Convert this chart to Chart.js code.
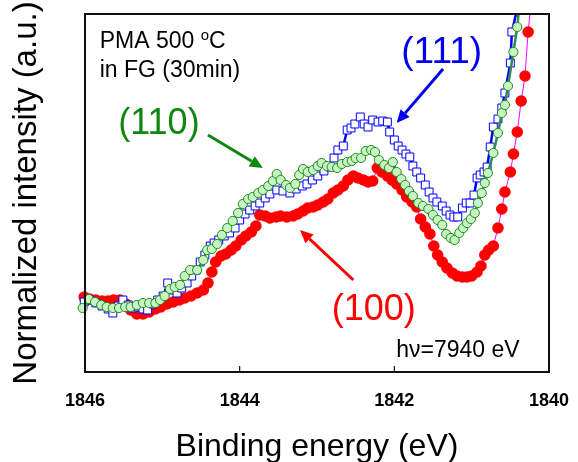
<!DOCTYPE html>
<html>
<head>
<meta charset="utf-8">
<script src="https://cdn.jsdelivr.net/npm/chart.js@4.4.1/dist/chart.umd.min.js"></script>
<style>
  html, body { margin: 0; padding: 0; background: #fff; }
  #wrap { width: 578px; height: 462px; }
</style>
</head>
<body>
<div id="wrap"><canvas id="xps" width="578" height="462"></canvas></div>
<script>
// Binding energy (eV), normalized intensity (a.u.)
const sample100 = [
  [1846.01,0.75],[1845.94,0.73],[1845.86,0.72],[1845.78,0.71],[1845.70,0.71],[1845.63,0.72],[1845.55,0.72],[1845.47,0.68],
  [1845.41,0.62],[1845.33,0.58],[1845.25,0.58],[1845.17,0.60],[1845.09,0.63],[1845.02,0.65],[1844.94,0.68],[1844.86,0.70],
  [1844.78,0.72],[1844.71,0.74],[1844.63,0.76],[1844.55,0.79],[1844.47,0.82],[1844.41,0.89],[1844.36,1.00],[1844.31,1.10],
  [1844.24,1.16],[1844.18,1.18],[1844.11,1.22],[1844.05,1.26],[1843.98,1.32],[1843.92,1.36],[1843.85,1.40],[1843.79,1.46],
  [1843.74,1.57],[1843.67,1.56],[1843.61,1.54],[1843.53,1.55],[1843.47,1.56],[1843.39,1.55],[1843.31,1.56],[1843.25,1.58],
  [1843.18,1.61],[1843.12,1.64],[1843.05,1.65],[1842.99,1.67],[1842.92,1.70],[1842.86,1.73],[1842.79,1.79],[1842.73,1.82],
  [1842.66,1.86],[1842.60,1.92],[1842.53,1.96],[1842.47,1.94],[1842.40,1.92],[1842.34,1.90],[1842.28,1.91],[1842.22,2.04],
  [1842.16,2.00],[1842.09,1.96],[1842.03,1.92],[1841.97,1.88],[1841.90,1.82],[1841.84,1.75],[1841.77,1.70],[1841.71,1.65],
  [1841.66,1.53],[1841.60,1.45],[1841.54,1.38],[1841.49,1.26],[1841.44,1.17],[1841.38,1.10],[1841.32,1.04],[1841.25,0.99],
  [1841.19,0.96],[1841.12,0.95],[1841.06,0.95],[1841.00,0.96],[1840.93,1.00],[1840.88,1.06],[1840.83,1.17],[1840.78,1.22],
  [1840.72,1.26],[1840.66,1.44],[1840.61,1.63],[1840.57,1.80],[1840.50,2.00],[1840.46,2.18],[1840.41,2.40],[1840.36,2.71],
  [1840.31,2.96],[1840.27,3.40],[1840.21,3.87]
];

const sample111 = [
  [1846.01,0.70],[1845.94,0.72],[1845.86,0.69],[1845.78,0.66],[1845.70,0.63],[1845.64,0.59],[1845.57,0.66],[1845.51,0.72],
  [1845.44,0.67],[1845.38,0.64],[1845.31,0.65],[1845.25,0.63],[1845.19,0.62],[1845.12,0.68],[1845.06,0.72],[1844.99,0.76],
  [1844.93,0.89],[1844.86,0.82],[1844.81,0.79],[1844.75,0.84],[1844.68,0.89],[1844.62,0.96],[1844.56,1.02],[1844.51,1.10],
  [1844.45,1.17],[1844.38,1.26],[1844.33,1.29],[1844.27,1.32],[1844.20,1.36],[1844.13,1.39],[1844.06,1.44],[1844.00,1.52],
  [1843.93,1.58],[1843.87,1.62],[1843.80,1.66],[1843.74,1.69],[1843.67,1.74],[1843.61,1.78],[1843.52,1.82],[1843.44,1.81],
  [1843.35,1.79],[1843.27,1.83],[1843.19,1.86],[1843.13,1.88],[1843.06,1.92],[1842.99,1.96],[1842.91,2.01],[1842.83,2.05],
  [1842.78,2.14],[1842.73,2.22],[1842.66,2.26],[1842.61,2.42],[1842.56,2.44],[1842.51,2.48],[1842.44,2.55],[1842.39,2.48],
  [1842.34,2.45],[1842.28,2.52],[1842.21,2.50],[1842.15,2.51],[1842.09,2.50],[1842.06,2.40],[1842.00,2.32],[1841.95,2.26],
  [1841.90,2.22],[1841.85,2.18],[1841.80,2.15],[1841.76,2.06],[1841.71,2.00],[1841.66,1.94],[1841.60,1.87],[1841.55,1.80],
  [1841.50,1.74],[1841.45,1.70],[1841.38,1.66],[1841.33,1.61],[1841.28,1.57],[1841.23,1.55],[1841.18,1.55],[1841.12,1.64],
  [1841.07,1.69],[1841.02,1.69],[1840.97,1.77],[1840.93,1.94],[1840.89,1.97],[1840.84,2.00],[1840.80,2.05],[1840.76,2.25],
  [1840.72,2.45],[1840.66,2.53],[1840.61,2.64],[1840.57,2.79],[1840.50,3.09],[1840.48,3.40],[1840.34,3.87]
];

const sample110 = [
  [1846.03,0.64],[1845.95,0.73],[1845.87,0.70],[1845.79,0.67],[1845.72,0.65],[1845.64,0.64],[1845.56,0.64],[1845.48,0.65],
  [1845.41,0.65],[1845.33,0.67],[1845.25,0.69],[1845.17,0.69],[1845.09,0.69],[1845.03,0.72],[1844.97,0.76],[1844.90,0.83],
  [1844.84,0.85],[1844.77,0.87],[1844.71,0.96],[1844.64,1.02],[1844.55,1.02],[1844.47,1.12],[1844.42,1.22],[1844.36,1.23],
  [1844.29,1.28],[1844.23,1.37],[1844.16,1.44],[1844.09,1.51],[1844.02,1.59],[1843.96,1.68],[1843.89,1.73],[1843.83,1.75],
  [1843.76,1.79],[1843.70,1.82],[1843.63,1.86],[1843.57,1.91],[1843.52,1.98],[1843.47,1.92],[1843.40,1.87],[1843.35,1.84],
  [1843.28,1.88],[1843.23,1.97],[1843.18,2.03],[1843.12,2.00],[1843.05,2.02],[1842.99,2.06],[1842.94,2.09],[1842.87,2.06],
  [1842.81,2.05],[1842.74,2.04],[1842.68,2.08],[1842.61,2.10],[1842.55,2.11],[1842.50,2.14],[1842.43,2.14],[1842.37,2.21],
  [1842.30,2.22],[1842.25,2.20],[1842.20,2.12],[1842.13,2.07],[1842.07,2.04],[1842.02,2.10],[1841.97,2.00],[1841.91,1.93],
  [1841.86,1.87],[1841.81,1.81],[1841.76,1.76],[1841.69,1.69],[1841.63,1.66],[1841.56,1.63],[1841.50,1.57],[1841.44,1.52],
  [1841.38,1.47],[1841.33,1.38],[1841.27,1.34],[1841.22,1.32],[1841.16,1.39],[1841.11,1.44],[1841.06,1.49],[1841.01,1.53],
  [1840.96,1.59],[1840.92,1.69],[1840.87,1.79],[1840.83,1.89],[1840.79,1.99],[1840.72,2.19],[1840.66,2.39],[1840.61,2.59],
  [1840.57,2.67],[1840.53,2.86],[1840.46,3.20],[1840.41,3.45],[1840.36,3.87]
];

const xTicks = [1846, 1844, 1842, 1840];

// labels & arrows, in data units
const labels = [
  { text: '(110)', x: 1845.57, y: 2.38, color: '#0f870f', size: 36 },
  { text: '(111)', x: 1841.91, y: 3.09, color: '#0000ee', size: 37 },
  { text: '(100)', x: 1842.81, y: 0.52, color: '#ff0000', size: 36 }
];
const arrows = [
  { from: [1844.41, 2.37], to: [1843.70, 2.04], color: '#0f870f' },
  { from: [1841.37, 3.03], to: [1841.97, 2.49], color: '#0000ee' },
  { from: [1842.53, 0.92], to: [1843.22, 1.42], color: '#ff0000' }
];

const FONT = '"Liberation Sans", Arial, sans-serif';
Chart.defaults.font.family = FONT;
Chart.defaults.color = '#000';

const toXY = arr => arr.map(p => ({ x: p[0], y: p[1] }));

const decorations = {
  id: 'decorations',
  afterDatasetsDraw(chart) {
    const { ctx, chartArea: a, scales: { x, y } } = chart;
    ctx.save();
    // frame
    ctx.strokeStyle = '#111';
    ctx.lineWidth = 2;
    ctx.strokeRect(a.left, a.top, a.right - a.left, a.bottom - a.top);
    // inner ticks on bottom axis
    ctx.lineWidth = 1.2;
    xTicks.slice(1, -1).forEach(v => {
      const px = x.getPixelForValue(v);
      ctx.beginPath();
      ctx.moveTo(px, a.bottom);
      ctx.lineTo(px, a.bottom - 6);
      ctx.stroke();
    });

    // arrows
    arrows.forEach(ar => {
      const x0 = x.getPixelForValue(ar.from[0]), y0 = y.getPixelForValue(ar.from[1]);
      const x1 = x.getPixelForValue(ar.to[0]), y1 = y.getPixelForValue(ar.to[1]);
      const ang = Math.atan2(y1 - y0, x1 - x0);
      const hl = 13, hw = 6;
      const bx = x1 - hl * Math.cos(ang), by = y1 - hl * Math.sin(ang);
      ctx.strokeStyle = ar.color;
      ctx.fillStyle = ar.color;
      ctx.lineWidth = 3;
      ctx.beginPath();
      ctx.moveTo(x0, y0);
      ctx.lineTo(bx, by);
      ctx.stroke();
      ctx.beginPath();
      ctx.moveTo(x1, y1);
      ctx.lineTo(bx + hw * Math.sin(ang), by - hw * Math.cos(ang));
      ctx.lineTo(bx - hw * Math.sin(ang), by + hw * Math.cos(ang));
      ctx.closePath();
      ctx.fill();
    });

    // orientation labels
    ctx.textBaseline = 'alphabetic';
    ctx.textAlign = 'left';
    labels.forEach(l => {
      ctx.fillStyle = l.color;
      ctx.font = l.size + 'px ' + FONT;
      ctx.fillText(l.text, x.getPixelForValue(l.x), y.getPixelForValue(l.y));
    });

    // annealing condition
    ctx.fillStyle = '#000';
    ctx.font = '23px ' + FONT;
    let tx = x.getPixelForValue(1845.81);
    const ty = y.getPixelForValue(3.24);
    ctx.fillText('PMA 500 ', tx, ty);
    tx += ctx.measureText('PMA 500 ').width;
    ctx.font = '15px ' + FONT;
    ctx.fillText('o', tx, ty - 8);
    tx += ctx.measureText('o').width;
    ctx.font = '23px ' + FONT;
    ctx.fillText('C', tx, ty);
    ctx.fillText('in FG (30min)', x.getPixelForValue(1845.81), y.getPixelForValue(2.95));

    // photon energy
    ctx.textAlign = 'right';
    ctx.fillText('h\u03bd=7940 eV', x.getPixelForValue(1840.38), y.getPixelForValue(0.15));
    ctx.restore();
  }
};

new Chart(document.getElementById('xps'), {
  type: 'line',
  data: {
    datasets: [
      {
        label: '(110)',
        data: toXY(sample110),
        order: 1,
        borderColor: '#2e8b57',
        borderWidth: 2.5,
        pointStyle: 'circle',
        pointRadius: 4.6,
        pointBackgroundColor: '#c8f3c2',
        pointBorderColor: '#1f8f1f',
        pointBorderWidth: 1,
        clip: { left: 10, top: 0, right: 0, bottom: 0 }
      },
      {
        label: '(111)',
        data: toXY(sample111),
        order: 2,
        borderColor: '#0000ff',
        borderWidth: 2.5,
        pointStyle: 'rect',
        pointRadius: 5.6,
        pointBackgroundColor: '#ffffff',
        pointBorderColor: '#0000ff',
        pointBorderWidth: 1,
        clip: { left: 10, top: 0, right: 0, bottom: 0 }
      },
      {
        label: '(100)',
        data: toXY(sample100),
        order: 3,
        borderColor: '#ff00ff',
        borderWidth: 1,
        pointStyle: 'circle',
        pointRadius: 5.8,
        pointBackgroundColor: '#ff0000',
        pointBorderColor: '#ff0000',
        pointBorderWidth: 0,
        clip: { left: 10, top: 0, right: 0, bottom: 0 }
      }
    ]
  },
  options: {
    responsive: false,
    animation: false,
    layout: { padding: { top: 14, right: 29, bottom: 0, left: 0 } },
    plugins: { legend: { display: false }, tooltip: { enabled: false } },
    scales: {
      x: {
        type: 'linear',
        reverse: true,
        min: 1840,
        max: 1846,
        afterBuildTicks: s => { s.ticks = xTicks.map(v => ({ value: v })); },
        ticks: { font: { size: 18, weight: 'bold' }, padding: 0, maxRotation: 0, callback: v => String(v) },
        grid: { display: false, drawTicks: true, tickLength: 18 },
        border: { display: true, color: '#111', width: 2 },
        title: {
          display: true,
          text: 'Binding energy (eV)',
          font: { size: 32, lineHeight: 0.95 },
          padding: { top: 20, bottom: 0 }
        }
      },
      y: {
        min: 0,
        max: 3.58,
        ticks: { display: false },
        grid: { display: false, drawTicks: false },
        border: { display: true, color: '#111', width: 2 },
        title: {
          display: true,
          text: 'Normalized intensity (a.u.)',
          font: { size: 33, lineHeight: 1 },
          padding: { top: 10, bottom: 42 }
        }
      }
    }
  },
  plugins: [decorations]
});
</script>
</body>
</html>
